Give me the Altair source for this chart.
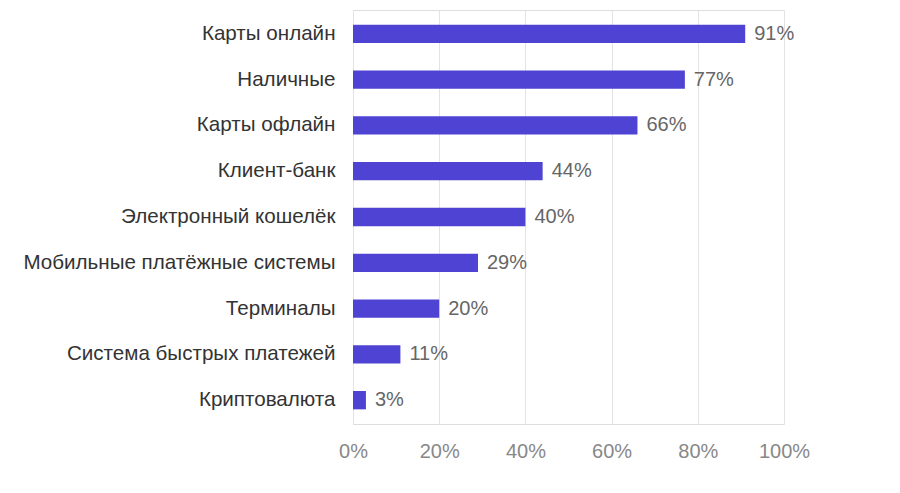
import altair as alt
import pandas as pd

categories = ["Карты онлайн", "Наличные", "Карты офлайн", "Клиент-банк",
              "Электронный кошелёк", "Мобильные платёжные системы",
              "Терминалы", "Система быстрых платежей", "Криптовалюта"]
values = [91, 77, 66, 44, 40, 29, 20, 11, 3]
x_ticks = [0, 20, 40, 60, 80, 100]

df = pd.DataFrame({"cat": categories, "val": values})
df["lbl"] = df["val"].astype(str) + "%"

FONT = "Liberation Sans"

y_enc = alt.Y("cat:N", sort=categories, title=None,
              scale=alt.Scale(paddingInner=0.6, paddingOuter=0.32),
              axis=alt.Axis(ticks=False, domain=False, labelPadding=18,
                            labelFontSize=20.6, labelColor="#333333", labelFont=FONT,
                            labelLimit=400))
x_enc = alt.X("val:Q", title=None,
              scale=alt.Scale(domain=[0, 100], nice=False),
              axis=alt.Axis(values=x_ticks, labelExpr="datum.value + '%'",
                            ticks=False, domain=False, labelPadding=17,
                            labelFlush=False, labelOverlap=False,
                            labelFontSize=20, labelColor="#888888", labelFont=FONT,
                            grid=True, gridColor="#e3e3e3", gridWidth=1))

bars = alt.Chart(df).mark_bar(color="#4f43d3").encode(x=x_enc, y=y_enc)
text = alt.Chart(df).mark_text(align="left", baseline="middle", dx=9,
                               fontSize=20, color="#666666", font=FONT).encode(
    x=alt.X("val:Q"), y=alt.Y("cat:N", sort=categories), text="lbl:N")

chart = (bars + text).properties(
    width=431, height=414,
    autosize=alt.AutoSizeParams(type="none"),
    padding={"left": 345, "top": 2, "right": 100, "bottom": 60},
).configure_view(stroke=None).configure(background="white")

chart.save("out.html", embed_options={"renderer": "svg", "actions": False})
